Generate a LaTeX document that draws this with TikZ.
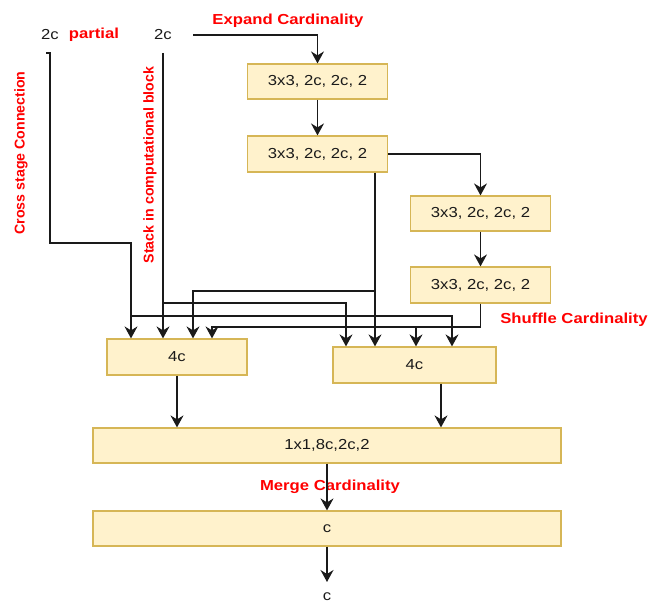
\documentclass[tikz,border=0pt]{standalone}
\usepackage{fontspec}
\setmainfont{Liberation Sans}[FakeStretch=1.15]
\newfontfamily\rotfont{Liberation Sans}
\usetikzlibrary{arrows.meta}
\definecolor{boxfill}{HTML}{FFF2CC}
\definecolor{boxline}{HTML}{D6B656}
\definecolor{txt}{HTML}{1A1A1A}
\definecolor{lbl}{HTML}{FF0000}
\tikzset{
  blk/.style={draw=boxline, fill=boxfill, line width=1.2pt, inner sep=0pt,
    minimum height=35pt, text=txt, font=\fontsize{14.5}{17}\selectfont},
  wire/.style={line width=1.3pt, draw=txt},
  arr/.style={wire, -{Stealth[length=12pt,width=13pt,inset=4pt]}},
  plain/.style={text=txt, font=\fontsize{14.5}{17}\selectfont, inner sep=0pt},
  redlbl/.style={text=lbl, font=\fontsize{14.5}{16}\bfseries\selectfont, inner sep=0pt},
  rotlbl/.style={text=lbl, font=\fontsize{14.2}{16}\rotfont\bfseries\selectfont, inner sep=0pt, rotate=90}
}
\begin{document}
\begin{tikzpicture}[x=1pt,y=-1pt]
\useasboundingbox (0,0) rectangle (649,604);
% boxes
\node[blk, minimum width=140pt] (b1) at (317.5,81.5) {3x3, 2c, 2c, 2};
\node[blk, minimum width=140pt, minimum height=36pt] (b2) at (317.5,154) {3x3, 2c, 2c, 2};
\node[blk, minimum width=140pt] (b3) at (480.5,213.5) {3x3, 2c, 2c, 2};
\node[blk, minimum width=140pt, minimum height=36pt] (b4) at (480.5,285) {3x3, 2c, 2c, 2};
\node[blk, minimum width=140pt, minimum height=36pt] (cl) at (177,357) {4c};
\node[blk, minimum width=163pt, minimum height=36pt] (cr) at (414.5,365) {4c};
\node[blk, minimum width=468pt] (mg) at (327,445.5) {1x1,8c,2c,2};
\node[blk, minimum width=468pt] (cb) at (327,528.5) {c};
% texts
\node[plain] (in1) at (50,35) {2c};
\node[redlbl] (part) at (94,35) {partial};
\node[plain] (in2) at (163,35) {2c};
\node[redlbl] (exp) at (288,21) {Expand Cardinality};
\node[redlbl] (shuf) at (574,320) {Shuffle Cardinality};
\node[redlbl] (merge) at (330,487) {Merge Cardinality};
\node[rotlbl] (cross) at (21,153) {Cross stage Connection};
\node[rotlbl] (stack) at (150,165) {Stack in computational block};
\node[plain] (out) at (327,597) {c};
% coordinates
\coordinate (s2) at (193,35);
\coordinate (p0) at (46,53);
\coordinate (p1) at (50,53);
\coordinate (k0) at (163,53);
\coordinate (pj) at (131,316);
\coordinate (kj) at (163,303);
\coordinate (bj) at (375,291);
\coordinate (fj) at (416,327);
% expand path
\draw[arr] (s2) -| (b1.north);
\draw[arr] (b1.south) -- (b2.north);
\draw[arr] (b2.east) -| (b3.north);
\draw[arr] (b3.south) -- (b4.north);
% partial (cross stage)
\draw[wire] (p0) -- (p1) -- (50,243) -- (131,243) -- (pj);
\draw[arr] (pj) -- (pj |- cl.north);
\draw[arr] (pj) -| (452,0 |- cr.north);
% stack
\draw[arr] (k0) -- (k0 |- cl.north);
\draw[arr] (kj) -| (346,0 |- cr.north);
% b2 bottom
\draw[arr] (375,0 |- b2.south) -- (375,0 |- cr.north);
\draw[arr] (bj) -| (193,0 |- cl.north);
% b4 bottom
\draw[wire] (b4.south) -- (b4.south |- fj);
\draw[arr] (b4.south |- fj) -| (212,0 |- cl.north);
\draw[arr] (fj) -- (fj |- cr.north);
% merge
\draw[arr] (cl.south) -- (cl.south |- mg.north);
\draw[arr] (441,0 |- cr.south) -- (441,0 |- mg.north);
\draw[arr] (mg.south) -- (cb.north);
\draw[arr] (cb.south) -- (327,582);
\end{tikzpicture}
\end{document}
